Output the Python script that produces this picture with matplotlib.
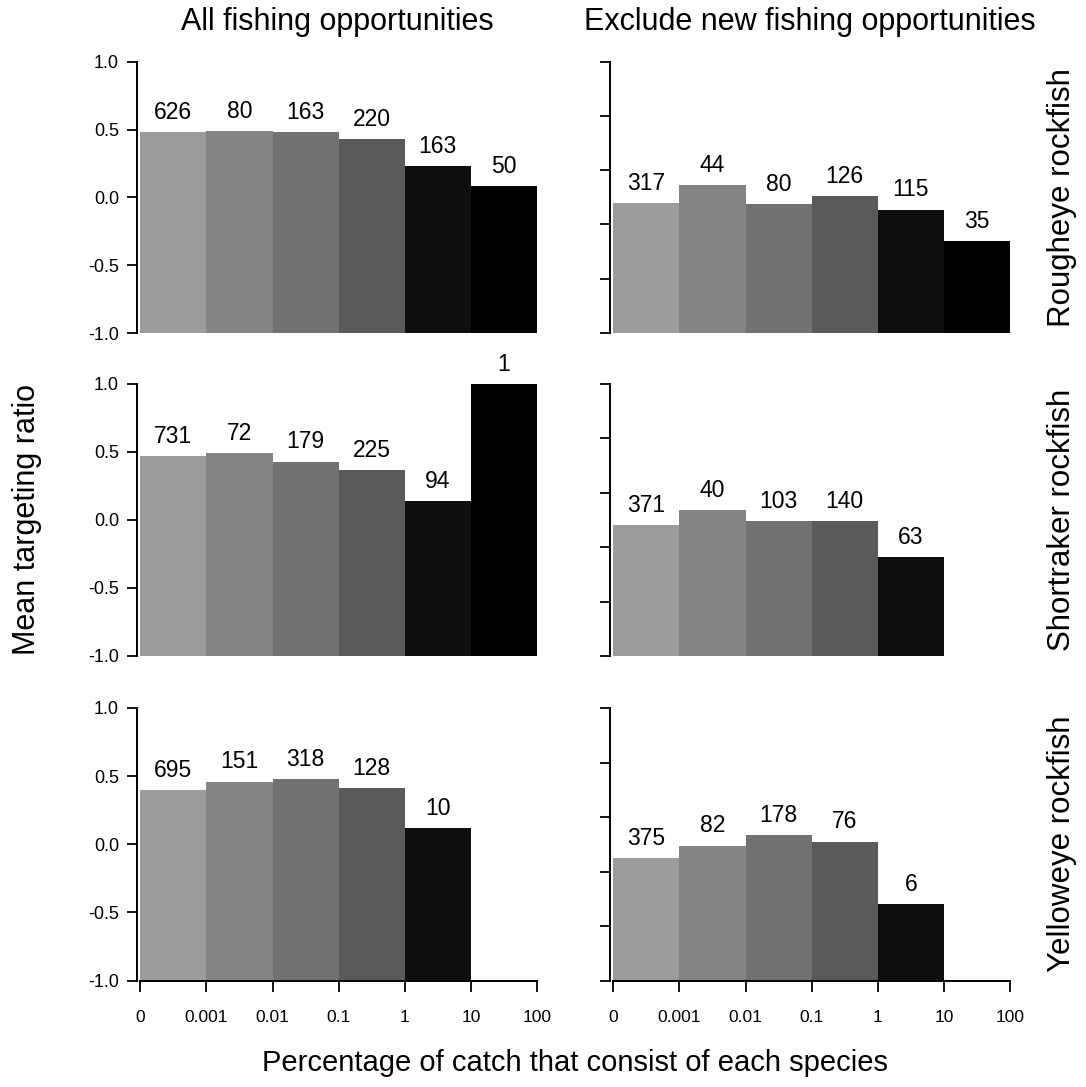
import numpy as np
import matplotlib
matplotlib.use('Agg')
import matplotlib.pyplot as plt

plt.rcParams['font.family'] = ['Liberation Sans', 'DejaVu Sans']

# Catch-percentage bins (one bar per bin)
bin_labels = ['0', '0.001', '0.01', '0.1', '1', '10', '100']
species = ['Rougheye rockfish', 'Shortraker rockfish', 'Yelloweye rockfish']
col_titles = ['All fishing opportunities', 'Exclude new fishing opportunities']

# Mean targeting ratio per bin; NaN = no trips in that bin
rougheye_all = [0.48, 0.49, 0.48, 0.43, 0.23, 0.08]
rougheye_all_n = [626, 80, 163, 220, 163, 50]
rougheye_excl = [-0.04, 0.09, -0.05, 0.01, -0.09, -0.32]
rougheye_excl_n = [317, 44, 80, 126, 115, 35]

shortraker_all = [0.47, 0.49, 0.43, 0.37, 0.14, 1.00]
shortraker_all_n = [731, 72, 179, 225, 94, 1]
shortraker_excl = [-0.04, 0.07, -0.01, -0.01, -0.27, np.nan]
shortraker_excl_n = [371, 40, 103, 140, 63, None]

yelloweye_all = [0.40, 0.46, 0.48, 0.41, 0.12, np.nan]
yelloweye_all_n = [695, 151, 318, 128, 10, None]
yelloweye_excl = [-0.10, -0.01, 0.07, 0.02, -0.44, np.nan]
yelloweye_excl_n = [375, 82, 178, 76, 6, None]

panels = [
    [(rougheye_all, rougheye_all_n), (rougheye_excl, rougheye_excl_n)],
    [(shortraker_all, shortraker_all_n), (shortraker_excl, shortraker_excl_n)],
    [(yelloweye_all, yelloweye_all_n), (yelloweye_excl, yelloweye_excl_n)],
]

# light grey for the smallest bins, black for the largest
bar_colors = ['#9c9c9c', '#848484', '#727272', '#5a5a5a', '#0e0e0e', '#000000']

fig = plt.figure(figsize=(10.86, 10.87), dpi=100)
W, H = 1086.0, 1087.0

col_left = [137, 610]
col_width = 400
row_top = [61.7, 384, 708]
row_bottom = [333, 656, 980.5]

x = np.arange(6)
for r in range(3):
    for c in range(2):
        vals, counts = panels[r][c]
        ax = fig.add_axes([col_left[c] / W, 1 - row_bottom[r] / H,
                           col_width / W, (row_bottom[r] - row_top[r]) / H])
        vals = np.array(vals, dtype=float)
        ok = ~np.isnan(vals)
        ax.bar(x[ok], vals[ok] + 1, bottom=-1, width=1.0, align='edge',
               color=[bar_colors[i] for i in x[ok]], edgecolor='none')
        for i in x[ok]:
            ax.text(i + 0.5, vals[i] + 0.06, str(counts[i]), ha='center',
                    va='bottom', fontsize=16.5)
        ax.set_xlim(-0.05, 6.0)
        ax.set_ylim(-1, 1)
        for s in ['top', 'right']:
            ax.spines[s].set_visible(False)
        ax.spines['left'].set_linewidth(1.4)
        ax.spines['left'].set_bounds(-1, 1)
        if c == 0:
            ax.set_yticks([-1, -0.5, 0, 0.5, 1])
            ax.set_yticklabels(['-1.0', '-0.5', '0.0', '0.5', '1.0'])
        else:
            ax.set_yticks(np.linspace(-1, 1, 6))
            ax.set_yticklabels([])
        ax.tick_params(axis='y', direction='out', length=7, width=1.3,
                       labelsize=13, pad=6)
        if r == 2:
            ax.spines['bottom'].set_linewidth(1.4)
            ax.spines['bottom'].set_bounds(0, 6)
            ax.set_xticks(np.arange(7))
            ax.set_xticklabels(bin_labels)
            ax.tick_params(axis='x', direction='out', length=8, width=1.3,
                           labelsize=12.5, pad=13)
        else:
            ax.spines['bottom'].set_visible(False)
            ax.set_xticks([])
        if r == 0:
            fig.text((col_left[c] + col_width / 2) / W, 1 - 22 / H,
                     col_titles[c], ha='center', va='center', fontsize=22)
        if c == 1:
            fig.text(1062 / W, 1 - (row_top[r] + row_bottom[r]) / 2 / H,
                     species[r], rotation=90, ha='center', va='center',
                     fontsize=22.5)

fig.text(27 / W, 1 - 520 / H, 'Mean targeting ratio', rotation=90,
         ha='center', va='center', fontsize=22)
fig.text(575 / W, 1 - 1063 / H, 'Percentage of catch that consist of each species',
         ha='center', va='center', fontsize=21)

fig.savefig('out.png', dpi=100)
